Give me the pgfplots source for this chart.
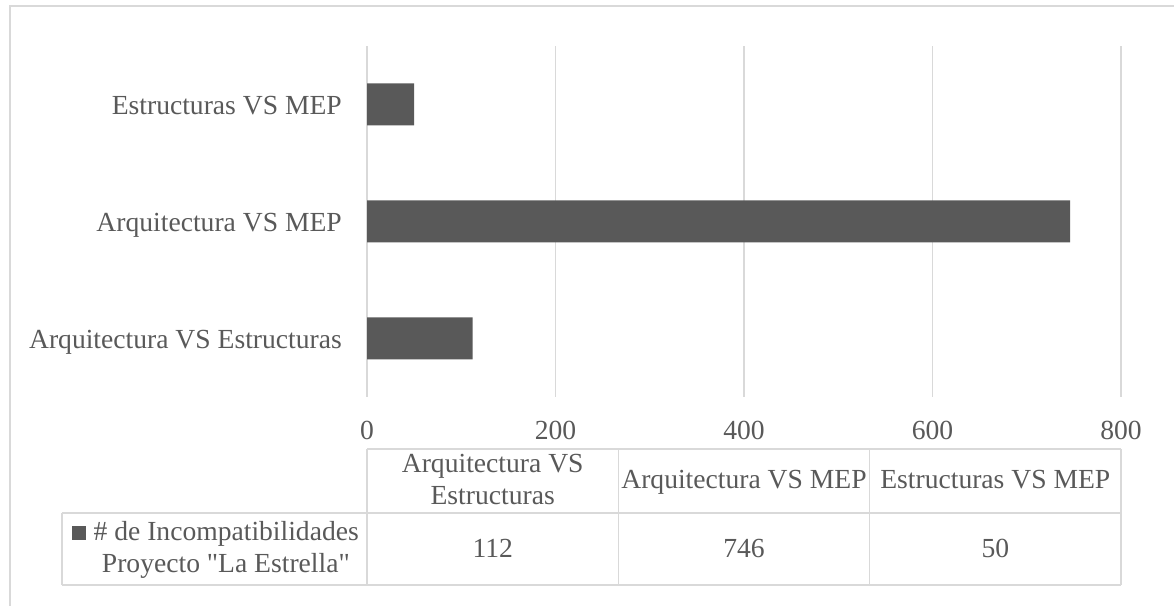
\documentclass[border=0pt]{standalone}
\usepackage{fontspec}
\setmainfont{Liberation Serif}[Ligatures=TeXOff]
\usepackage{pgfplots}
\usepackage{pgfplotstable}
\pgfplotsset{compat=1.18}

\definecolor{barfill}{HTML}{595959}
\definecolor{txtgray}{HTML}{595959}
\definecolor{rulegray}{HTML}{D9D9D9}

% Incompatibilities per discipline pair
\pgfplotstableread[col sep=comma]{
idx,name,count
0,Arquitectura VS Estructuras,112
1,Arquitectura VS MEP,746
2,Estructuras VS MEP,50
}\incompat

\newcommand{\chartfont}{\fontsize{27.6bp}{32bp}\selectfont}

\begin{document}
\begin{tikzpicture}[x=1bp,y=1bp]
  \path[use as bounding box] (0,0) rectangle (1174,606);

  % chart area frame
  \draw[rulegray, line width=2bp] (10,-5) -- (10,600) -- (1180,600);

  \begin{axis}[
    at={(367bp,209bp)}, anchor=south west,
    scale only axis, width=754bp, height=351bp,
    xbar, bar width=42bp,
    xmin=0, xmax=800, xtick={0,200,...,800},
    ymin=-0.5, ymax=2.5, ytick={0,1,2},
    yticklabels from table={\incompat}{name},
    axis line style={draw=none},
    major tick length=0pt,
    xmajorgrids, grid style={draw=rulegray, line width=1.5bp},
    tick label style={font=\chartfont, text=txtgray, inner sep=0pt},
    /pgf/number format/assume math mode=true,
    xticklabel style={anchor=base, yshift=-43bp},
    yticklabel style={anchor=base east, xshift=-25bp, yshift=-10.5bp},
    clip=false,
  ]
    \addplot[fill=barfill, draw=none] table[x=count, y=idx] {\incompat};
  \end{axis}

  % data table below the axis
  \begin{scope}[rulegray, line width=1.5bp]
    \draw (367,157) -- (1121,157);
    \draw (62,93) -- (1121,93);
    \draw (62,21) -- (1121,21);
    \draw (62,93) -- (62,21);
    \foreach \xx in {367,618.3,869.7,1121} \draw (\xx,157) -- (\xx,21);
  \end{scope}

  \pgfplotstablegetelem{0}{count}\of\incompat \let\valA\pgfplotsretval
  \pgfplotstablegetelem{1}{count}\of\incompat \let\valB\pgfplotsretval
  \pgfplotstablegetelem{2}{count}\of\incompat \let\valC\pgfplotsretval

  \begin{scope}[every node/.style={font=\chartfont, text=txtgray, inner sep=0pt, anchor=base}]
    \node at (492.7,133) {Arquitectura VS};
    \node at (492.7,101) {Estructuras};
    \node at (744,117) {Arquitectura VS MEP};
    \node at (995.3,117) {Estructuras VS MEP};
    \node at (492.7,48) {\valA};
    \node at (744,48) {\valB};
    \node at (995.3,48) {\valC};
    \node[anchor=base east] at (359,65) {\# de Incompatibilidades};
    \node[anchor=base east] at (350,33) {Proyecto "La Estrella"};
  \end{scope}
  \fill[barfill] (72,66) rectangle (86,80);
\end{tikzpicture}
\end{document}
